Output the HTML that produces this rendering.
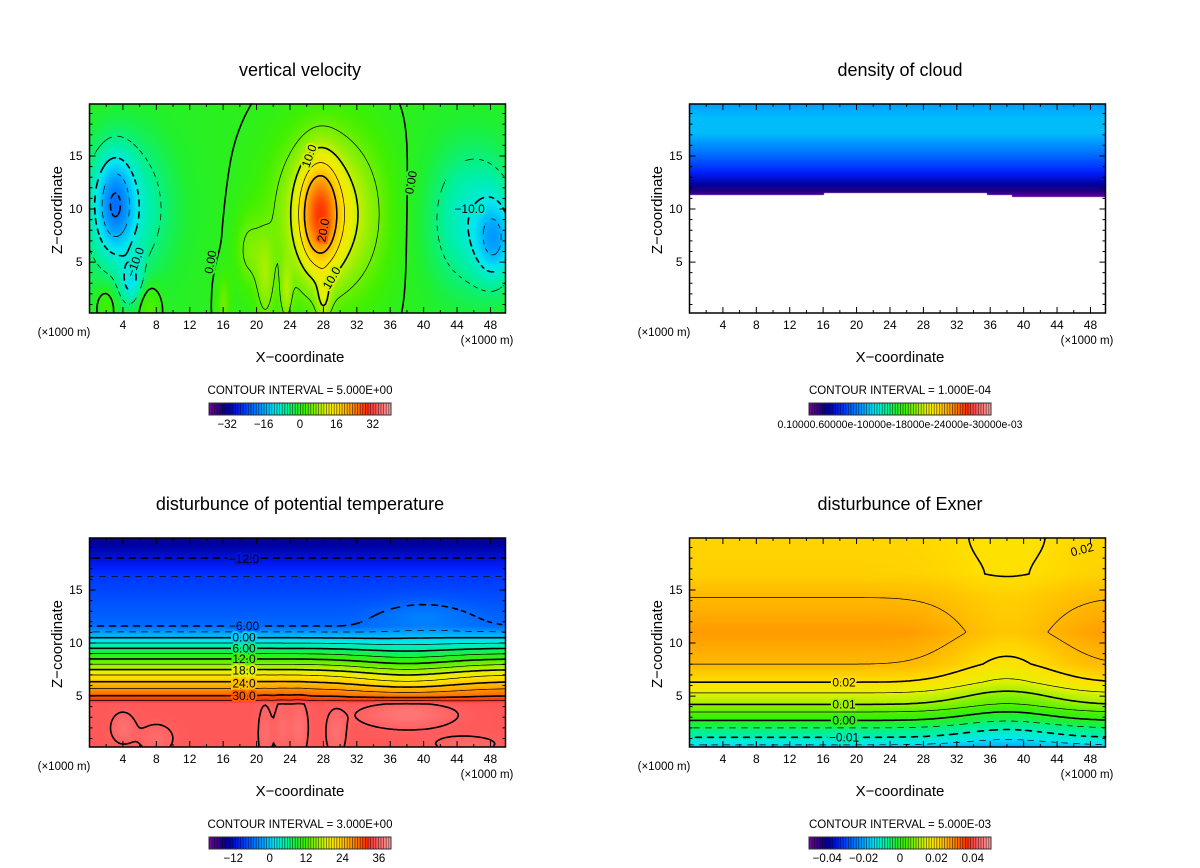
<!DOCTYPE html>
<html><head><meta charset="utf-8">
<style>
body{margin:0;background:#fff;}
#root{position:relative;width:1200px;height:868px;overflow:hidden;background:#fff;font-family:"Liberation Sans",sans-serif;}
canvas{position:absolute;}
svg{position:absolute;left:0;top:0;}
</style></head>
<body>
<div id="root">
<canvas id="c0"></canvas>
<canvas id="c1"></canvas>
<canvas id="c2"></canvas>
<canvas id="c3"></canvas>
<svg id="ov" width="1200" height="868"></svg>
</div>
<script>
// ---------- data ----------
const xTicks=[4,8,12,16,20,24,28,32,36,40,44,48];
const zTicks=[5,10,15];
// vertical velocity blobs
const wBlobX  =[27.5,28.5,3,4,48.5,46,2,7,16,21,23.5,28,19,5];
const wBlobZ  =[9.5,9.5,10.5,10,7,9,1,1,1,3,2,1.5,6,3];
const wBlobAmp=[16,14,-12,-9,-10,-9,4,5,5,6,6,6,5,-8];
const wBlobSX =[1.6,4.5,1.5,4,1.5,4,0.8,1,0.6,0.8,0.5,0.6,1.2,1];
const wBlobSZ =[3.5,5.5,3,5,2.5,5,1.2,1.5,2,3,2,1.5,2.5,1.5];
const wLevels=[-20,-15,-10,-5,0,5,10,15,20];
const wCbTicks=[-32,-16,0,16,32];
// potential temperature
const thZ=[0,4.3,4.8,5.5,7,8.5,9.5,10.5,11.6,16.3,18,20];
const thV=[35.5,35.5,31,28,21,12,6,0,-6,-9,-12,-15];
const thBlobX=[40,38,38,4,8,21,23,25,29.5,45];
const thBlobZ=[12.5,7,3.5,2,1,1.5,2,2,1.5,0.5];
const thBlobAmp=[2,-3,2.5,1.5,1.2,1.2,1.2,1.5,1.5,1];
const thBlobSX=[4,5,4,1,1.5,0.6,0.6,0.8,0.8,3];
const thBlobSZ=[1.2,2,1,1,1,2,2,2,1.5,0.6];
const thLevels=[-15,-12,-9,-6,-3,0,3,6,9,12,15,18,21,24,27,30,33,36];
const thCbTicks=[-12,0,12,24,36];
// exner
const exZ=[0,0.4,1.1,2,2.7,3.5,4.2,5.3,6.3,8,11,14.3,16.5,20];
const exV=[-0.018,-0.015,-0.01,-0.005,0,0.005,0.01,0.015,0.02,0.025,0.028,0.025,0.022,0.0215];
const exBlobX=[38,38];
const exBlobZ=[7,20];
const exBlobAmp=[-0.006,-0.0015];
const exBlobSX=[5,6];
const exBlobSZ=[6,2.5];
const exLevels=[-0.015,-0.01,-0.005,0,0.005,0.01,0.015,0.02,0.025];
const exCbTicks=[-0.04,-0.02,0,0.02,0.04];
// cloud base
const cbX=[0,14,16,30.5,35.5,38.5,47.5];
const cbZ=[11.3,11.3,11.5,11.5,11.3,11.1,11.1];

// ---------- helpers ----------
const X0=0,X1=49.8,Z0=0.2,Z1=19.9,PW=416,PH=209;
const stops=[[0,'#7000a0'],[0.06,'#200080'],[0.1,'#0000a0'],[0.16,'#0020ff'],[0.24,'#0070ff'],[0.3,'#00a8ff'],[0.36,'#00e8f0'],[0.42,'#00f0a0'],[0.48,'#20f030'],[0.53,'#40f000'],[0.6,'#a0f000'],[0.65,'#e8f000'],[0.7,'#ffe000'],[0.76,'#ffb000'],[0.82,'#ff7000'],[0.87,'#ff3000'],[0.9,'#ff4040'],[1,'#ffa0a0']];
const hx=h=>[parseInt(h.slice(1,3),16),parseInt(h.slice(3,5),16),parseInt(h.slice(5,7),16)];
const stopsRGB=stops.map(s=>[s[0],hx(s[1])]);
function cmap(t){t=Math.max(0,Math.min(1,t));for(let i=1;i<stopsRGB.length;i++){if(t<=stopsRGB[i][0]){const a=stopsRGB[i-1],b=stopsRGB[i];const f=(t-a[0])/(b[0]-a[0]);return [0,1,2].map(k=>Math.round(a[1][k]+(b[1][k]-a[1][k])*f));}}return stopsRGB[stopsRGB.length-1][1];}
function blobs(x,z,X,Z,A,SX,SZ){let s=0;for(let i=0;i<X.length;i++){const dx=(x-X[i])/SX[i],dz=(z-Z[i])/SZ[i];s+=A[i]*Math.exp(-0.5*(dx*dx+dz*dz));}return s;}
function interp(z,Zs,Vs){if(z<=Zs[0])return Vs[0];for(let i=1;i<Zs.length;i++){if(z<=Zs[i]){const f=(z-Zs[i-1])/(Zs[i]-Zs[i-1]);return Vs[i-1]+(Vs[i]-Vs[i-1])*f;}}return Vs[Vs.length-1];}
function cloudBase(x){let b=cbZ[0];for(let i=0;i<cbX.length;i++){if(x>=cbX[i])b=cbZ[i];}return b;}

const fW=(x,z)=>blobs(x,z,wBlobX,wBlobZ,wBlobAmp,wBlobSX,wBlobSZ)-0.3;
const fTh=(x,z)=>interp(z,thZ,thV)+blobs(x,z,thBlobX,thBlobZ,thBlobAmp,thBlobSX,thBlobSZ);
const fEx=(x,z)=>interp(z,exZ,exV)+blobs(x,z,exBlobX,exBlobZ,exBlobAmp,exBlobSX,exBlobSZ);
const fCl=(x,z)=>{const b=cloudBase(x);if(z<b)return null;const r=Math.max(0,Math.min(1,(z-11.2)/6));return 0.01e-3+0.31e-3*Math.pow(r,0.75)-(z>18.5?0.02e-3*(z-18.5):0);};

const panels=[
 {ox:0,oy:0,title:'vertical velocity',f:fW,vmin:-40,vmax:40,levels:wLevels,intv:5,ci:'CONTOUR INTERVAL = 5.000E+00',cb:wCbTicks,fmt:v=>v<0?'\u2212'+(-v):''+v,name:'vertical-velocity'},
 {ox:600,oy:0,title:'density of cloud',f:fCl,vmin:0,vmax:1e-3,levels:[],intv:1e-4,ci:'CONTOUR INTERVAL = 1.000E-04',cb:null,name:'density-of-cloud'},
 {ox:0,oy:434,title:'disturbunce of potential temperature',f:fTh,vmin:-20,vmax:40,levels:thLevels,intv:3,ci:'CONTOUR INTERVAL = 3.000E+00',cb:thCbTicks,fmt:v=>v<0?'\u2212'+(-v):''+v,name:'potential-temperature'},
 {ox:600,oy:434,title:'disturbunce of Exner',f:fEx,vmin:-0.05,vmax:0.05,levels:exLevels,intv:0.005,ci:'CONTOUR INTERVAL = 5.000E-03',cb:exCbTicks,fmt:v=>v===0?'0':(v<0?'\u2212'+(-v).toFixed(2):v.toFixed(2)),name:'exner'}
];
const labels=[
 [[26.3,15,'10.0',-70],[28,8,'20.0',-80],[29,3.5,'10.0',-60],[14.5,5,'0.00',-80],[38.5,12.5,'0.00',-80],[45.5,10,'\u221210.0',0],[5.5,5,'\u221210.0',-70]],
 [],
 [[18.5,17.9,'\u221212.0',0],[18.5,11.6,'\u22126.00',0],[18.5,10.5,'0.00',0],[18.5,9.5,'6.00',0],[18.5,8.5,'12.0',0],[18.5,7.4,'18.0',0],[18.5,6.2,'24.0',0],[18.5,5.0,'30.0',0]],
 [[18.5,6.3,'0.02',0],[18.5,4.2,'0.01',0],[18.5,2.7,'0.00',0],[18.5,1.1,'\u22120.01',0],[47,18.8,'0.02',-15]]
];

const NS='http://www.w3.org/2000/svg';
const ov=document.getElementById('ov');
function el(tag,attrs,parent){const e=document.createElementNS(NS,tag);for(const k in attrs)e.setAttribute(k,attrs[k]);(parent||ov).appendChild(e);return e;}
function txt(x,y,s,size,anchor,parent,extra){const t=el('text',Object.assign({x:x,y:y,'font-size':size,'text-anchor':anchor||'middle','font-family':'"Liberation Sans",sans-serif',fill:'#000'},extra||{}),parent);t.textContent=s;return t;}

panels.forEach((p,pi)=>{
 const L=89.5+p.ox,T=104+p.oy;
 const sx=x=>L+(x-X0)/(X1-X0)*PW, sz=z=>T+(Z1-z)/(Z1-Z0)*PH;
 const cv=document.getElementById('c'+pi);cv.width=PW;cv.height=PH;cv.style.left=L+'px';cv.style.top=T+'px';
 const ctx=cv.getContext('2d');const img=ctx.createImageData(PW,PH);
 for(let j=0;j<PH;j++){const z=Z1-(j+0.5)/PH*(Z1-Z0);for(let i=0;i<PW;i++){const x=X0+(i+0.5)/PW*(X1-X0);const v=p.f(x,z);const o=(j*PW+i)*4;if(v===null){img.data[o]=255;img.data[o+1]=255;img.data[o+2]=255;img.data[o+3]=255;continue;}const c=cmap((v-p.vmin)/(p.vmax-p.vmin));img.data[o]=c[0];img.data[o+1]=c[1];img.data[o+2]=c[2];img.data[o+3]=255;}}
 ctx.putImageData(img,0,0);
 const g=el('g',{});
 
 
 const st=2,nx=Math.floor(PW/st),nz=Math.floor(PH/st);
 const grid=[];for(let j=0;j<=nz;j++){const r=[];const z=Z1-j*st/PH*(Z1-Z0);for(let i=0;i<=nx;i++){r.push(p.f(X0+i*st/PW*(X1-X0),z));}grid.push(r);}
 p.levels.forEach(lv=>{
  let d='';
  const dashed=lv<-1e-12;
  for(let j=0;j<nz;j++)for(let i=0;i<nx;i++){
   if(dashed&&Math.floor((i+j)/3)%2===1)continue;
   const a=grid[j][i],b=grid[j][i+1],c=grid[j+1][i+1],e=grid[j+1][i];
   const pts=[];
   const ed=(v1,v2,x1,y1,x2,y2)=>{if((v1-lv)*(v2-lv)<0){const f=(lv-v1)/(v2-v1);pts.push([x1+(x2-x1)*f,y1+(y2-y1)*f]);}};
   const x0=L+i*st,y0=T+j*st;
   ed(a,b,x0,y0,x0+st,y0);ed(b,c,x0+st,y0,x0+st,y0+st);ed(c,e,x0+st,y0+st,x0,y0+st);ed(e,a,x0,y0+st,x0,y0);
   for(let k=0;k+1<pts.length;k+=2)d+='M'+pts[k][0].toFixed(1)+' '+pts[k][1].toFixed(1)+'L'+pts[k+1][0].toFixed(1)+' '+pts[k+1][1].toFixed(1);
  }
  const thick=Math.abs(Math.round(lv/(2*p.intv))-lv/(2*p.intv))<1e-6;
  const path=el('path',{d:d,fill:'none',stroke:'#000','stroke-width':thick?1.6:0.7,'stroke-linecap':'round'},g);
  
  
 });
 (labels[pi]||[]).forEach(l=>{
  const v=p.f(l[0],l[1]);const c=v===null?[255,255,255]:cmap((v-p.vmin)/(p.vmax-p.vmin));
  const t=txt(sx(l[0]),sz(l[1])+4,l[2],12,'middle',g,{transform:'rotate('+l[3]+' '+sx(l[0])+' '+sz(l[1])+')',stroke:'rgb('+c.join(',')+')','stroke-width':4,'paint-order':'stroke'});
  
  });
 const fr=el('rect',{x:L,y:T,width:PW,height:PH,fill:'none',stroke:'#000','stroke-width':1.5},g);
 
 
 let td='';
 for(let x=2;x<X1;x+=2){const len=(x%4===0)?6:3;td+='M'+sx(x)+' '+(T+PH)+'v'+(-len)+'M'+sx(x)+' '+T+'v'+len;}
 for(let z=1;z<Z1;z+=1){const len=(z%5===0)?6:3;td+='M'+L+' '+sz(z)+'h'+len+'M'+(L+PW)+' '+sz(z)+'h'+(-len);}
 const tk=el('path',{d:td,stroke:'#000','stroke-width':1,fill:'none'},g);
 
 
 xTicks.forEach(x=>{const t=txt(sx(x),T+PH+16,''+x,12,'middle',g);});
 zTicks.forEach(z=>{const t=txt(L-7,sz(z)+4,''+z,12,'end',g);});
 let t;
 t=txt(64+p.ox,T+PH+23,'(\u00d71000 m)',11.5,'middle',g);
 t=txt(487+p.ox,T+PH+31,'(\u00d71000 m)',11.5,'middle',g);
 t=txt(300+p.ox,T+PH+49,'X\u2212coordinate',15,'middle',g);
 t=txt(0,0,'Z\u2212coordinate',15,'middle',g,{transform:'translate('+(62+p.ox)+' '+(T+106)+') rotate(-90)'});
 t=txt(300+p.ox,T-28,p.title,18,'middle',g);
 t=txt(300+p.ox,T+290,p.ci,11.5,'middle',g);
 const cbL=209+p.ox,cbT=T+299,cbW=182,cbH=12;
 const cbg=el('g',{},g);
 
 
 const ns=70;
 for(let k=0;k<ns;k++){const c=cmap(k/(ns-1));el('rect',{x:cbL+k*cbW/ns,y:cbT,width:cbW/ns+0.3,height:cbH,fill:'rgb('+c.join(',')+')'},cbg);
  const dk=c.map(v=>Math.round(v*0.45));el('rect',{x:cbL+k*cbW/ns,y:cbT,width:0.8,height:cbH,fill:'rgb('+dk.join(',')+')'},cbg);}
 el('rect',{x:cbL,y:cbT,width:cbW,height:cbH,fill:'none',stroke:'#333','stroke-width':1},cbg);
 if(p.cb){p.cb.forEach(v=>{const x=cbL+(v-p.vmin)/(p.vmax-p.vmin)*cbW;const tt=txt(x,cbT+25,p.fmt(v),11.5,'middle',cbg);});}
 else{const tt=txt(cbL+cbW/2,cbT+25,'0.10000.60000e-10000e-18000e-24000e-30000e-03',11,'middle',cbg,{textLength:245,lengthAdjust:'spacingAndGlyphs'});}
});
</script>
</body></html>
